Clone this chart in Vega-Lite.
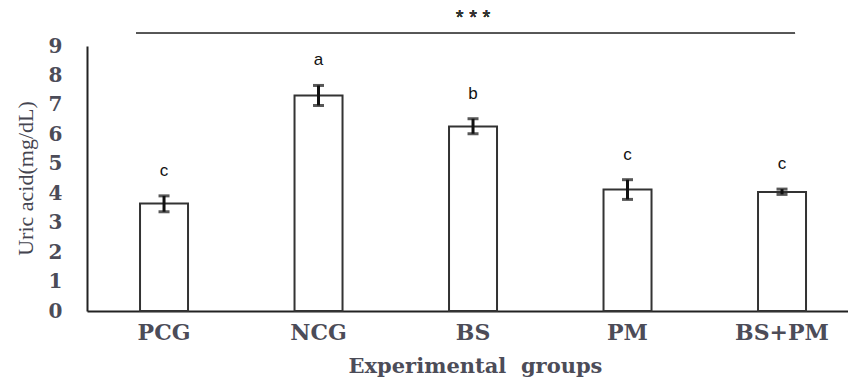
{
  "$schema": "https://vega.github.io/schema/vega-lite/v6.json",
  "width": 761,
  "height": 265,
  "autosize": {"type": "none"},
  "padding": {"left": 87, "top": 46, "right": 0, "bottom": 66},
  "background": "white",
  "config": {"view": {"stroke": null}},
  "data": {
    "values": [
      {"group": "PCG", "mean": 3.65, "lo": 3.37, "hi": 3.91, "letter": "c"},
      {"group": "NCG", "mean": 7.32, "lo": 6.98, "hi": 7.66, "letter": "a"},
      {"group": "BS", "mean": 6.27, "lo": 6.02, "hi": 6.53, "letter": "b"},
      {"group": "PM", "mean": 4.13, "lo": 3.79, "hi": 4.46, "letter": "c"},
      {"group": "BS+PM", "mean": 4.04, "lo": 3.96, "hi": 4.14, "letter": "c"}
    ]
  },
  "resolve": {"axis": {"y": "independent"}},
  "encoding": {
    "x": {
      "field": "group",
      "type": "nominal",
      "sort": null,
      "scale": {"type": "band", "paddingInner": 0.5, "paddingOuter": 0.2128, "align": 0.584},
      "axis": {
        "domainColor": "#222",
        "domainWidth": 2,
        "ticks": false,
        "grid": false,
        "labelAngle": 0,
        "labelOverlap": false,
        "labelFont": "DejaVu Serif",
        "labelFontWeight": "bold",
        "labelFontSize": 22,
        "labelColor": "#4c4c58",
        "labelPadding": 11,
        "title": "Experimental\u00a0 groups",
        "titleFont": "DejaVu Serif",
        "titleFontWeight": "bold",
        "titleFontSize": 21,
        "titleColor": "#4c4c58",
        "titleX": 388,
        "titleY": 61,
        "titleBaseline": "alphabetic"
      }
    }
  },
  "layer": [
    {
      "mark": {"type": "bar", "fill": "white", "stroke": "#333", "strokeWidth": 2, "width": 48},
      "encoding": {
        "y": {
          "field": "mean",
          "type": "quantitative",
          "scale": {"domain": [0, 9], "nice": false, "zero": true},
          "axis": {
            "values": [0, 1, 2, 3, 4, 5, 6, 7, 8, 9],
            "labelOverlap": false,
            "domainColor": "#222",
            "domainWidth": 2,
            "ticks": false,
            "grid": false,
            "labelFont": "DejaVu Serif",
            "labelFontWeight": "bold",
            "labelFontSize": 20,
            "labelColor": "#4c4c58",
            "labelPadding": 25,
            "title": "Uric acid(mg/dL)",
            "titleFont": "Liberation Serif",
            "titleFontWeight": "normal",
            "titleFontSize": 22,
            "titleColor": "#44444f",
            "titleX": -62,
            "titleY": 132,
            "titleBaseline": "middle"
          }
        }
      }
    },
    {
      "mark": {"type": "rule", "color": "#111", "strokeWidth": 3},
      "encoding": {
        "y": {"field": "lo", "type": "quantitative", "axis": null},
        "y2": {"field": "hi"}
      }
    },
    {
      "mark": {"type": "tick", "color": "#111", "thickness": 3, "size": 11, "orient": "horizontal"},
      "encoding": {"y": {"field": "lo", "type": "quantitative", "axis": null}}
    },
    {
      "mark": {"type": "tick", "color": "#111", "thickness": 3, "size": 11, "orient": "horizontal"},
      "encoding": {"y": {"field": "hi", "type": "quantitative", "axis": null}}
    },
    {
      "mark": {"type": "text", "font": "Liberation Sans", "fontSize": 17, "color": "#111", "baseline": "alphabetic", "dy": -20},
      "encoding": {
        "y": {"field": "hi", "type": "quantitative", "axis": null},
        "text": {"field": "letter"}
      }
    },
    {
      "mark": {"type": "rule", "color": "#555", "strokeWidth": 1.5, "xOffset": -28, "x2Offset": 13},
      "encoding": {
        "x": {"datum": "PCG"},
        "x2": {"datum": "BS+PM"},
        "y": {"datum": 9.43, "type": "quantitative", "axis": null}
      }
    },
    {
      "mark": {"type": "text", "text": "* * *", "font": "Liberation Sans", "fontSize": 20, "color": "#333", "baseline": "middle", "dy": 4},
      "encoding": {
        "x": {"datum": "BS"},
        "y": {"datum": 10.07, "type": "quantitative", "axis": null}
      }
    }
  ]
}
